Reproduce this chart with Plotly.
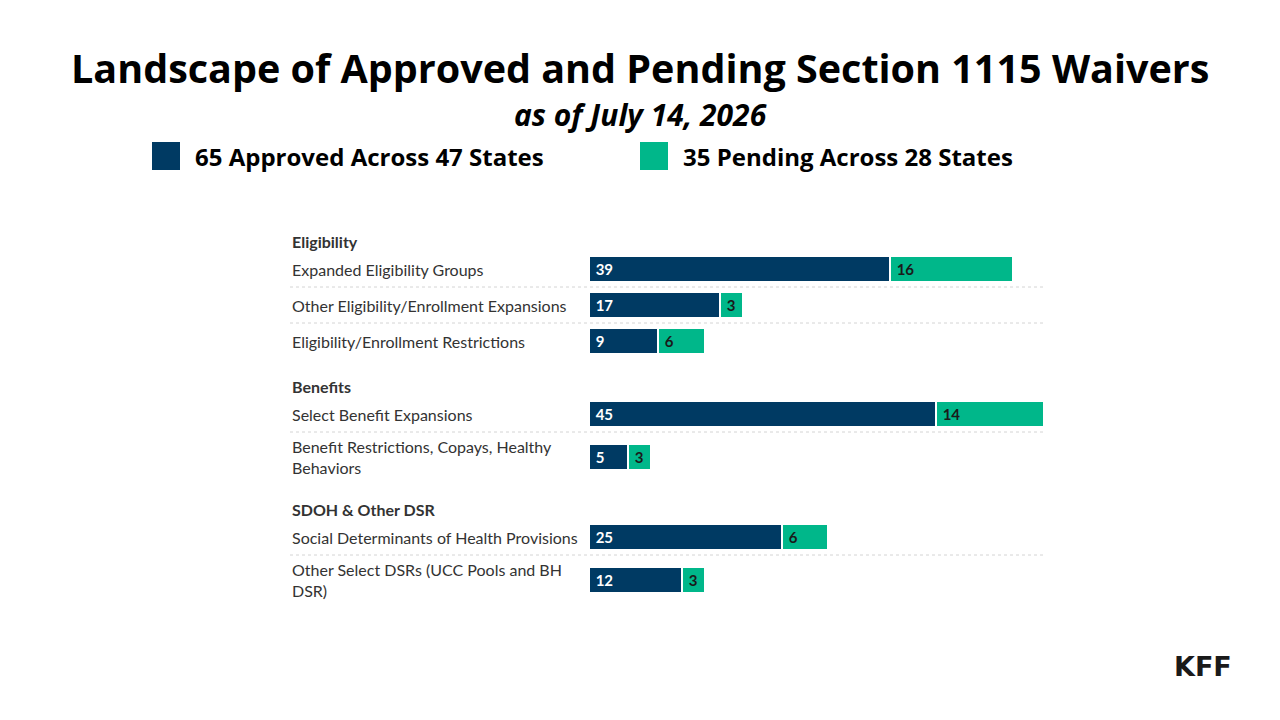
import plotly.graph_objects as go

# ---------------- data ----------------
groups = ["Eligibility", "Benefits", "SDOH & Other DSR"]
categories = [
    "Expanded Eligibility Groups",
    "Other Eligibility/Enrollment Expansions",
    "Eligibility/Enrollment Restrictions",
    "Select Benefit Expansions",
    "Benefit Restrictions, Copays, Healthy<br>Behaviors",
    "Social Determinants of Health Provisions",
    "Other Select DSRs (UCC Pools and BH<br>DSR)",
]
category_group = [0, 0, 0, 1, 1, 2, 2]
approved = [39, 17, 9, 45, 5, 25, 12]
pending = [16, 3, 6, 14, 3, 6, 3]
series_names = ["65 Approved Across 47 States", "35 Pending Across 28 States"]
title_text = "Landscape of Approved and Pending Section 1115 Waivers"
subtitle_text = "as of July 14, 2026"
logo_text = "KFF"

# ---------------- styles / layout ----------------
W, H = 1280, 720
C_APPROVED = "#003a63"
C_PENDING = "#00b78a"
LABEL_FONT = "Lato"
TXT = "#333333"

TOP = 232
HEADER_H = 19
GAP = 18
ROW_H = 36
EXTRA_LINE = 14

row_y, header_y, separators = [], [], []
y = TOP
for g, name in enumerate(groups):
    if g > 0:
        y += GAP
    header_y.append(y + HEADER_H / 2)
    y += HEADER_H
    idx = [i for i, cg in enumerate(category_group) if cg == g]
    for k, i in enumerate(idx):
        if k > 0:
            separators.append(y)
        h = ROW_H + EXTRA_LINE * categories[i].count("<br>")
        row_y.append(y + h / 2)
        y += h

x_left_px, x_right_px = 589, 1044
x_max = max(a + p for a, p in zip(approved, pending))

fig = go.Figure()
fig.add_trace(go.Bar(
    y=row_y, x=approved, orientation="h", width=26, name=series_names[0],
    marker=dict(color=C_APPROVED, line=dict(color="white", width=2)),
    text=[" " + str(v) for v in approved], textposition="inside",
    insidetextanchor="start", textangle=0,
    textfont=dict(color="white", size=15, family=LABEL_FONT, weight=700),
    hoverinfo="skip", showlegend=False,
))
fig.add_trace(go.Bar(
    y=row_y, x=pending, orientation="h", width=26, name=series_names[1],
    marker=dict(color=C_PENDING, line=dict(color="white", width=2)),
    text=[" " + str(v) for v in pending], textposition="inside",
    insidetextanchor="start", textangle=0,
    textfont=dict(color="#1a1a1a", size=15, family=LABEL_FONT, weight=700),
    hoverinfo="skip", showlegend=False,
))

annotations = []
for name, hy in zip(groups, header_y):
    annotations.append(dict(
        x=290 / W, xref="paper", y=hy, yref="y", text="<b>" + name + "</b>",
        showarrow=False, xanchor="left", yanchor="middle",
        font=dict(family=LABEL_FONT, size=16, color=TXT)))
for cat, ry in zip(categories, row_y):
    annotations.append(dict(
        x=290 / W, xref="paper", y=ry, yref="y", text=cat, align="left",
        showarrow=False, xanchor="left", yanchor="middle",
        font=dict(family=LABEL_FONT, size=16, color=TXT)))

annotations.append(dict(
    x=0.5, xref="paper", y=1 - 68 / H, yref="paper", text="<b>" + title_text + "</b>",
    showarrow=False, xanchor="center", yanchor="middle",
    font=dict(family="Open Sans", size=39.5, color="black")))
annotations.append(dict(
    x=0.5, xref="paper", y=1 - 115 / H, yref="paper", text="<b><i>" + subtitle_text + "</i></b>",
    showarrow=False, xanchor="center", yanchor="middle",
    font=dict(family="Open Sans", size=30, color="black")))

# legend
legend_x = [152, 640]
shapes = []
for lx, nm, col in zip(legend_x, series_names, [C_APPROVED, C_PENDING]):
    shapes.append(dict(type="rect", xref="paper", yref="paper",
                       x0=lx / W, x1=(lx + 28) / W, y0=1 - 170 / H, y1=1 - 142 / H,
                       fillcolor=col, line=dict(width=0)))
    annotations.append(dict(
        x=(lx + 41) / W, xref="paper", y=1 - 156 / H, yref="paper", text="<b>" + nm + "</b>",
        showarrow=False, xanchor="left", yanchor="middle",
        font=dict(family="Open Sans", size=24, color="black")))

for sy in separators:
    shapes.append(dict(type="line", xref="paper", yref="y",
                       x0=290 / W, x1=x_right_px / W, y0=sy, y1=sy,
                       line=dict(color="#d4d4d4", width=1, dash="dot")))

annotations.append(dict(
    x=1234 / W, xref="paper", y=1 - 666 / H, yref="paper", text="<b>" + logo_text + "</b>",
    showarrow=False, xanchor="right", yanchor="middle",
    font=dict(family="DejaVu Sans", size=27, color="#1a1a1a")))

fig.update_layout(
    width=W, height=H, margin=dict(l=0, r=0, t=0, b=0),
    paper_bgcolor="white", plot_bgcolor="white",
    barmode="stack", bargap=0,
    xaxis=dict(domain=[x_left_px / W, x_right_px / W], range=[0, x_max],
               visible=False, fixedrange=True),
    yaxis=dict(domain=[0, 1], range=[H, 0], visible=False, fixedrange=True),
    annotations=annotations, shapes=shapes,
    uniformtext=dict(mode=False),
)

fig.write_html("out.html", config={"displayModeBar": False})
